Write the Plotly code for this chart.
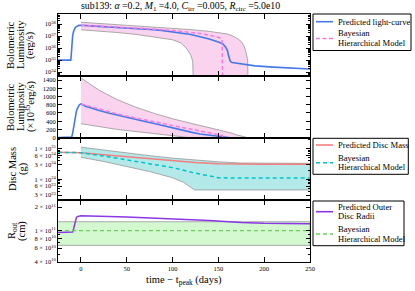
import numpy as np
import plotly.graph_objects as go
from plotly.subplots import make_subplots

# ---------------- data ----------------
# luminosity in units of 1e35 erg/s
t_lc = [-25, -11, -10.5, -10, -9, -8, -7, -6, -5, -4, -3, -2, -1, 0, 5, 10, 20, 30, 40, 50, 60,
        70, 80, 90, 100, 110, 120, 130, 140, 150, 155, 158, 160, 161, 162, 163, 165, 175, 190, 210, 230, 250]
L_lc = [1, 1, 3, 15, 110, 250, 400, 530, 630, 700, 755, 790, 810, 820, 765, 725, 660, 600, 545, 495, 445,
        395, 345, 290, 235, 180, 135, 90, 58, 32, 22, 12, 6, 2.5, 1.0, 0.8, 0.62, 0.46, 0.33, 0.26, 0.21, 0.18]

t_bhm = [0, 20, 40, 60, 80, 100, 110, 120, 130, 140, 150, 154, 155.5]
L_bhm = [820, 690, 575, 475, 385, 300, 255, 210, 165, 120, 80, 55, 1e-5]

t_up = [0, 20, 40, 60, 80, 100, 120, 140, 150, 160, 165, 170, 175, 178, 180, 182, 183]
L_up = [1450, 1150, 920, 740, 590, 460, 350, 250, 200, 150, 110, 70, 35, 15, 5, 1, 1e-5]
t_lo = [0, 20, 40, 60, 80, 100, 110, 116, 120, 122, 124]
L_lo = [340, 270, 200, 140, 90, 50, 25, 8, 2.5, 0.8, 1e-5]

# disc mass in units of 1e24 g
t_m = [-25, 0, 25, 50, 75, 100, 125, 150, 175, 200, 250]
M_pred = [7.6, 7.4, 6.3, 5.4, 4.57, 3.98, 3.55, 3.24, 3.09, 3.09, 3.09]
t_mb = [-25, 0, 25, 50, 75, 100, 125, 140, 150, 160, 250]
M_bhm = [7.6, 7.4, 5.75, 4.37, 3.31, 2.4, 1.58, 1.26, 1.12, 1.1, 1.1]
t_mu = [0, 25, 50, 75, 100, 125, 150, 175, 200, 250]
M_up = [11.2, 8.9, 7.24, 5.9, 4.9, 4.17, 3.72, 3.39, 3.31, 3.31]
t_ml = [0, 25, 50, 75, 100, 112, 124, 250]
M_lo = [5.25, 3.8, 2.63, 1.78, 1.12, 0.79, 0.447, 0.447]

# outer disc radius in units of 1e10 cm
t_r = [-25, -10, -9, -8, -7, -6, -5, -4, -2, 0, 50, 100, 140, 175, 200, 250]
R_pred = [9.45, 9.45, 9.6, 10.5, 12.0, 13.5, 14.6, 15.1, 15.4, 15.5, 14.96, 14.29, 13.5, 12.74, 12.45, 12.25]
t_rb = [-25, 250]
R_bhm = [10.0, 10.0]
R_up = [13.0, 13.0]
R_lo = [6.5, 6.5]

title_txt = ("sub139: <i>α</i> =0.2, <i>M</i><sub>1</sub> =4.0, <i>C</i><sub>irr</sub> =0.005, "
             "<i>R</i><sub>circ</sub> =5.0e10")

# ---------------- figure ----------------
FONT = "Liberation Serif"
L_PX, R_PX, T_PX, B_PX = 58, 310, 14, 262
W, H = 415, 291

fig = make_subplots(rows=4, cols=1, shared_xaxes=True, vertical_spacing=0)

PINK_FILL = "rgba(248,196,232,0.75)"
EDGE = "rgba(150,150,150,1)"
BLUE = "rgb(70,120,232)"
PINK = "rgb(250,120,220)"

def band(t_u, v_u, t_l, v_l, fillcolor, row, scale=1.0):
    xs = list(t_u) + list(t_l)[::-1]
    ys = list(np.array(v_u, dtype=float) * scale) + list((np.array(v_l, dtype=float) * scale)[::-1])
    fig.add_trace(go.Scatter(x=xs, y=ys, fill="toself", fillcolor=fillcolor, mode="lines",
                             line=dict(color=EDGE, width=0.8), hoverinfo="skip", showlegend=False),
                  row=row, col=1)

# panel 1 (log)
band(t_up, L_up, t_lo, L_lo, PINK_FILL, 1, 1e35)
fig.add_trace(go.Scatter(x=t_lc, y=np.array(L_lc, dtype=float) * 1e35, mode="lines",
                         line=dict(color=BLUE, width=1.6), showlegend=False), row=1, col=1)
fig.add_trace(go.Scatter(x=t_bhm, y=np.array(L_bhm, dtype=float) * 1e35, mode="lines",
                         line=dict(color=PINK, width=1.5, dash="4px,2.5px"), showlegend=False), row=1, col=1)
# panel 2 (linear)
band(t_up, np.maximum(L_up, 0), t_lo, np.maximum(L_lo, 0), PINK_FILL, 2)
fig.add_trace(go.Scatter(x=t_lc, y=L_lc, mode="lines", line=dict(color=BLUE, width=1.6),
                         showlegend=False), row=2, col=1)
fig.add_trace(go.Scatter(x=t_bhm, y=L_bhm, mode="lines",
                         line=dict(color=PINK, width=1.5, dash="4px,2.5px"), showlegend=False), row=2, col=1)
# panel 3
band(t_mu, M_up, t_ml, M_lo, "rgba(160,228,228,0.8)", 3, 1e24)
fig.add_trace(go.Scatter(x=t_m, y=np.array(M_pred) * 1e24, mode="lines",
                         line=dict(color="rgb(245,125,125)", width=1.5), showlegend=False), row=3, col=1)
fig.add_trace(go.Scatter(x=t_mb, y=np.array(M_bhm) * 1e24, mode="lines",
                         line=dict(color="rgb(0,196,204)", width=1.5, dash="4px,3px"), showlegend=False),
              row=3, col=1)
# panel 4
band(t_rb, R_up, t_rb, R_lo, "rgba(205,248,200,0.85)", 4, 1e10)
fig.add_trace(go.Scatter(x=t_r, y=np.array(R_pred) * 1e10, mode="lines",
                         line=dict(color="rgb(140,55,230)", width=1.5), showlegend=False), row=4, col=1)
fig.add_trace(go.Scatter(x=t_rb, y=np.array(R_bhm) * 1e10, mode="lines",
                         line=dict(color="rgb(110,205,95)", width=1.3, dash="4px,3px"), showlegend=False),
              row=4, col=1)

tickfont = dict(family=FONT, size=6.5, color="black")
common_ax = dict(showline=True, linecolor="black", linewidth=1, mirror="ticks", ticks="inside",
                 ticklen=4, tickcolor="black", showgrid=False, zeroline=False, tickfont=tickfont)

xticks = [0, 50, 100, 150, 200, 250]
for r in range(1, 5):
    fig.update_xaxes(range=[-25, 250], tickvals=xticks, ticklen=5,
                     showticklabels=(r == 4), row=r, col=1,
                     **{k: v for k, v in common_ax.items() if k != "ticklen"})

def minor_vals(lo, hi, majors):
    vals = []
    for e in range(lo, hi + 1):
        for k in range(1, 10):
            v = float(k) * 10.0 ** e
            if all(abs(v - m) / m > 1e-6 for m in majors):
                vals.append(v)
    return vals

# panel 1
maj1 = [10.0 ** e for e in range(34, 39)]
fig.update_yaxes(type="log", range=[33.67, 38.85], tickvals=maj1,
                 ticktext=["10<sup>%d</sup>" % e for e in range(34, 39)],
                 minor=dict(tickvals=minor_vals(33, 38, [10.0 ** e for e in range(33, 39)]), ticks="inside",
                            ticklen=2, tickcolor="black"),
                 row=1, col=1, **common_ax)
# panel 2
fig.update_yaxes(range=[-7, 1497], tickvals=list(range(0, 1401, 200)), row=2, col=1, **common_ax)
# panel 3
maj3 = [3e23, 6e23, 1e24, 3e24, 6e24, 1e25]
txt3 = ["3 × 10<sup>23</sup>", "6 × 10<sup>23</sup>", "1 × 10<sup>24</sup>", "3 × 10<sup>24</sup>",
        "6 × 10<sup>24</sup>", "1 × 10<sup>25</sup>"]
fig.update_yaxes(type="log", range=[23.32, 25.35], tickvals=maj3, ticktext=txt3,
                 minor=dict(tickvals=minor_vals(23, 25, maj3), ticks="inside", ticklen=2, tickcolor="black"),
                 row=3, col=1, **common_ax)
# panel 4
maj4 = [4e10, 6e10, 8e10, 1e11, 2e11]
txt4 = ["4 × 10<sup>10</sup>", "6 × 10<sup>10</sup>", "8 × 10<sup>10</sup>", "1 × 10<sup>11</sup>",
        "2 × 10<sup>11</sup>"]
fig.update_yaxes(type="log", range=[10.601, 11.391], tickvals=maj4, ticktext=txt4,
                 minor=dict(tickvals=[5e10, 7e10, 9e10], ticks="inside", ticklen=2, tickcolor="black"),
                 row=4, col=1, **common_ax)

# ---------------- text / legends ----------------
def px(x):
    return (x - L_PX) / (R_PX - L_PX)

def py(y):
    return (B_PX - y) / (B_PX - T_PX)

ann = []
def text(x, y, s, size=8.6, xanchor="left", angle=0):
    ann.append(dict(x=px(x), y=py(y), xref="paper", yref="paper", text=s, showarrow=False,
                    xanchor=xanchor, yanchor="middle", textangle=angle,
                    font=dict(family=FONT, size=size, color="black")))

text(180, 6.5, title_txt, size=9.8, xanchor="center")
text(184, 280, "time − t<sub>peak</sub> (days)", size=10.5, xanchor="center")

# y-axis titles
ytsz = 10.5
for x, s in [(10, "Bolometric"), (20, "Luminosity"), (30, "(erg/s)")]:
    text(x, 45, s, size=ytsz, xanchor="center", angle=-90)
for x, s in [(10, "Bolometric"), (20, "Luminosity"), (30, "(×10<sup>35</sup>erg/s)")]:
    text(x, 107, s, size=ytsz, xanchor="center", angle=-90)
for x, s in [(12, "Disc Mass"), (23, "(g)")]:
    text(x, 169, s, size=ytsz, xanchor="center", angle=-90)
for x, s in [(12, "R<sub>out</sub>"), (22, "(cm)")]:
    text(x, 231, s, size=ytsz, xanchor="center", angle=-90)

shapes = []
def box(x0, y0, x1, y1):
    shapes.append(dict(type="rect", xref="paper", yref="paper", x0=px(x0), x1=px(x1), y0=py(y0), y1=py(y1),
                       line=dict(color="black", width=1), fillcolor="white", layer="above"))

def sample(y, color, dash="solid"):
    shapes.append(dict(type="line", xref="paper", yref="paper", x0=px(316), x1=px(333), y0=py(y), y1=py(y),
                       line=dict(color=color, width=1.6, dash=dash), layer="above"))

TX = 336
box(313, 14, 411, 50.5)
sample(21.7, BLUE)
sample(38.5, PINK, "4px,2.5px")
text(TX, 21.7, "Predicted light-curve")
text(TX, 33.4, "Bayesian")
text(TX, 43.0, "Hierarchical Model")

box(313, 138.3, 408.3, 174.3)
sample(145, "rgb(245,125,125)")
sample(162.7, "rgb(0,196,204)", "4px,3px")
text(TX, 145, "Predicted Disc Mass")
text(TX, 157.6, "Bayesian")
text(TX, 167.2, "Hierarchical Model")

box(313, 201, 404, 245.7)
sample(211.7, "rgb(140,55,230)")
sample(234, "rgb(110,205,95)", "4px,3px")
text(TX, 206.8, "Predicted Outer")
text(TX, 216.4, "Disc Radii")
text(TX, 228.8, "Bayesian")
text(TX, 238.5, "Hierarchical Model")

fig.update_layout(width=W, height=H, margin=dict(l=L_PX, r=W - R_PX, t=T_PX, b=H - B_PX),
                  paper_bgcolor="white", plot_bgcolor="white", showlegend=False,
                  font=dict(family=FONT, color="black"), annotations=ann, shapes=shapes)

fig.write_html("out.html", config={"displayModeBar": False},
               post_script="document.body.style.margin='0';document.body.style.overflow='hidden';")
